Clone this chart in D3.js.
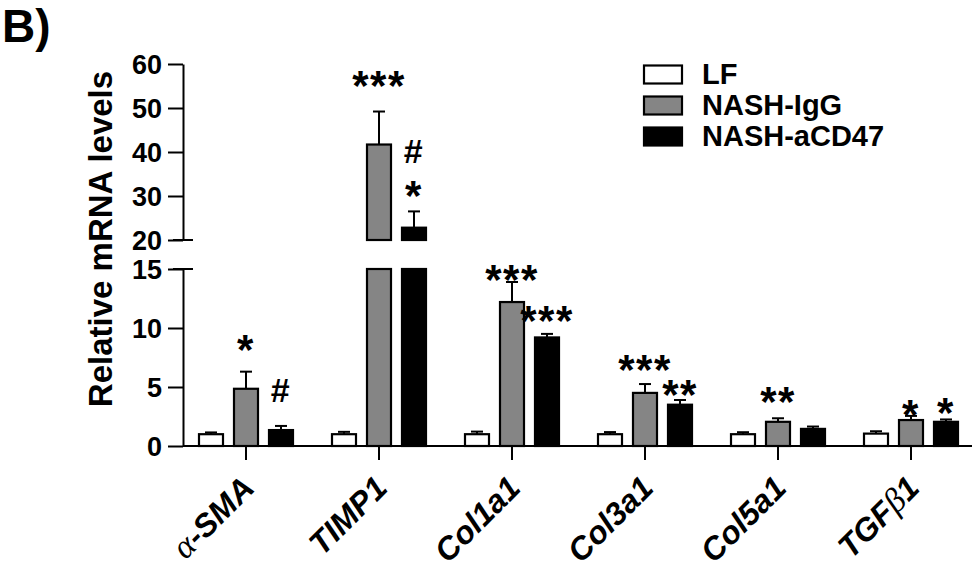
<!DOCTYPE html>
<html>
<head>
<meta charset="utf-8">
<script src="https://cdn.jsdelivr.net/npm/d3@7"></script>
<style>
  html, body { margin: 0; padding: 0; background: #fff; }
  #wrap { position: relative; width: 975px; height: 578px; }
  svg { display: block; font-family: "Liberation Sans", Arial, sans-serif; font-weight: bold; }
</style>
</head>
<body>
<div id="wrap">
<svg id="chart" width="975" height="578"></svg>
</div>
<script>
// genes on the x axis
var genes = ["α-SMA", "TIMP1", "Col1a1", "Col3a1", "Col5a1", "TGFβ1"];
var series = ["LF", "NASH-IgG", "NASH-aCD47"];

// means and SEM
var lfMean   = [1.0, 1.0, 1.0, 1.0, 1.0, 1.05];
var lfErr    = [0.15, 0.2, 0.22, 0.18, 0.17, 0.2];
var iggMean  = [4.85, 41.7, 12.2, 4.5, 2.05, 2.2];
var iggErr   = [1.45, 7.5, 1.7, 0.75, 0.3, 0.35];
var cd47Mean = [1.35, 22.8, 9.2, 3.5, 1.45, 2.05];
var cd47Err  = [0.35, 3.7, 0.3, 0.4, 0.2, 0.2];

// significance marks and the level (axis units) where each one sits
var iggStars    = ["*", "***", "***", "***", "**", "*"];
var iggStarsAt  = [8.5, 55.9, 14.4, 6.8, 4.1, 3.0];
var cd47Stars   = ["", "*", "***", "**", "", "*"];
var cd47StarsAt = [0, 31.0, 10.9, 4.7, 0, 3.15];
var cd47Hash    = ["#", "#", "", "", "", ""];
var cd47HashAt  = [3.7, 37.5, 0, 0, 0, 0];

var lowerTicks = [0, 5, 10, 15];
var upperTicks = [20, 30, 40, 50, 60];

var colors = ["#ffffff", "#858585", "#000000"];

var svg = d3.select("#chart");

// x: one band per gene, one sub band per series
var x = d3.scaleBand().domain(genes).range([179.5, 977.5]).paddingInner(0).paddingOuter(0);
var xs = d3.scaleBand().domain(series).range([-52.5, 52.5]).paddingInner(9 / 35).paddingOuter(9 / 70);

// broken y axis: lower part 0-15, upper part 20-60
var yLow = d3.scaleLinear().domain([0, 15]).range([446, 269]);
var yUp = d3.scaleLinear().domain([20, 60]).range([240, 64]);
function y(v) { return v <= 15 ? yLow(v) : yUp(Math.max(v, 20)); }

// text width measured on a canvas, used to chain the label pieces
var ctx = document.createElement("canvas").getContext("2d");
function textWidth(str, font) {
    ctx.font = font;
    return ctx.measureText(str).width;
}

var rows = genes.map(function(g, i) {
    return {
        gene: g,
        vals: [
            { s: series[0], v: lfMean[i], e: lfErr[i] },
            { s: series[1], v: iggMean[i], e: iggErr[i] },
            { s: series[2], v: cd47Mean[i], e: cd47Err[i] }
        ]
    };
});

var gx = x.bandwidth() / 2;

var groups = svg.selectAll(".gene")
    .data(rows)
    .enter().append("g")
    .attr("class", "gene")
    .attr("transform", function(d) { return "translate(" + (x(d.gene) + gx) + ",0)"; });

var bar = groups.selectAll(".bar")
    .data(function(d) { return d.vals; })
    .enter().append("g")
    .attr("class", "bar");

// error bars (upper half only), drawn first so the bar outline sits on top
bar.append("line")
    .attr("x1", function(d) { return xs(d.s) + xs.bandwidth() / 2; })
    .attr("x2", function(d) { return xs(d.s) + xs.bandwidth() / 2; })
    .attr("y1", function(d) { return y(d.v); })
    .attr("y2", function(d) { return y(d.v + d.e); })
    .attr("stroke", "#000").attr("stroke-width", 2);
bar.append("line")
    .attr("x1", function(d) { return xs(d.s) + xs.bandwidth() / 2 - 6; })
    .attr("x2", function(d) { return xs(d.s) + xs.bandwidth() / 2 + 6; })
    .attr("y1", function(d) { return y(d.v + d.e); })
    .attr("y2", function(d) { return y(d.v + d.e); })
    .attr("stroke", "#000").attr("stroke-width", 2);

// bar bodies, split into two pieces when they cross the break
bar.each(function(d, i) {
    var g = d3.select(this);
    var pieces = d.v > 15
        ? [[yLow(0), yLow(15)], [yUp(20), yUp(d.v)]]
        : [[yLow(0), yLow(d.v)]];
    pieces.forEach(function(p) {
        g.append("rect")
            .attr("x", xs(d.s) + 1)
            .attr("width", xs.bandwidth() - 2)
            .attr("y", p[1])
            .attr("height", p[0] - p[1])
            .attr("fill", colors[i])
            .attr("stroke", "#000")
            .attr("stroke-width", 2.2);
    });
});

// significance marks
function addMarks(labels, levels, s, size, lift) {
    groups.each(function(d, i) {
        if (!labels[i]) return;
        d3.select(this).append("text")
            .attr("x", xs(s) + xs.bandwidth() / 2)
            .attr("y", y(levels[i]) + lift)
            .attr("text-anchor", "middle")
            .attr("font-size", size)
            .attr("letter-spacing", 1.5)
            .text(labels[i]);
    });
}
addMarks(iggStars, iggStarsAt, series[1], 42, 18);
addMarks(cd47Stars, cd47StarsAt, series[2], 42, 18);
addMarks(cd47Hash, cd47HashAt, series[2], 34, 0);

// y axes
var axLow = svg.append("g")
    .attr("transform", "translate(183,0)")
    .call(d3.axisLeft(yLow).tickValues(lowerTicks).tickSize(15).tickSizeOuter(0).tickPadding(6));
var axUp = svg.append("g")
    .attr("transform", "translate(183,0)")
    .call(d3.axisLeft(yUp).tickValues(upperTicks).tickSize(15).tickSizeOuter(0).tickPadding(6));
[axLow, axUp].forEach(function(a) {
    a.selectAll("path, line").attr("stroke", "#000").attr("stroke-width", 2);
    a.selectAll("text").attr("font-size", 27).attr("font-family", "Liberation Sans, Arial, sans-serif")
        .attr("font-weight", "bold").attr("fill", "#000").attr("dy", "0.36em");
});
// break marks at 15 and 20
[yLow(15), yUp(20)].forEach(function(yy) {
    svg.append("line")
        .attr("x1", 173).attr("x2", 193)
        .attr("y1", yy).attr("y2", yy)
        .attr("stroke", "#000").attr("stroke-width", 2);
});

// x axis
var axX = svg.append("g")
    .attr("transform", "translate(0," + yLow(0) + ")")
    .call(d3.axisBottom(x).tickSize(14).tickSizeOuter(0).tickFormat(""));
axX.select(".domain").remove();
axX.selectAll("line").attr("stroke", "#000").attr("stroke-width", 2);
svg.append("line")
    .attr("x1", 183).attr("x2", 972)
    .attr("y1", yLow(0)).attr("y2", yLow(0))
    .attr("stroke", "#000").attr("stroke-width", 2);

// rotated gene labels: one plain text per piece, chained backwards from the end
// of the label along the 45 degree line (greek letters in a serif face)
var c45 = Math.SQRT1_2;
genes.forEach(function(g) {
    var ax = x(g) + gx + 10, ay = yLow(0) + 44;
    var parts = g.split(/([αβ])/).filter(function(p) { return p; }).reverse();
    var offset = 0;
    parts.forEach(function(part) {
        var greek = part === "α" || part === "β";
        var size = greek ? 34 : 32;
        var family = greek ? "'Liberation Serif', 'Times New Roman', serif" : "'Liberation Sans', Arial, sans-serif";
        var weight = greek ? "normal" : "bold";
        var t = svg.append("text")
            .attr("text-anchor", "end")
            .attr("font-size", size)
            .attr("font-style", "italic")
            .attr("transform", "translate(" + (ax - offset * c45) + "," + (ay + offset * c45) + ") rotate(-45)")
            .text(part);
        if (greek) t.attr("font-family", family).attr("font-weight", weight);
        offset += textWidth(part, "italic " + weight + " " + size + "px " + family);
    });
});

// y title
svg.append("text")
    .attr("transform", "translate(112,239) rotate(-90)")
    .attr("text-anchor", "middle")
    .attr("font-size", 33)
    .text("Relative mRNA levels");

// panel letter
svg.append("text")
    .attr("x", 2).attr("y", 42)
    .attr("font-size", 46)
    .text("B)");

// legend
var legend = svg.selectAll(".legend")
    .data(series)
    .enter().append("g")
    .attr("class", "legend")
    .attr("transform", function(d, i) { return "translate(643," + (84 + i * 31) + ")"; });
legend.append("rect")
    .attr("x", 1).attr("y", -18.5)
    .attr("width", 38).attr("height", 18)
    .attr("fill", function(d, i) { return colors[i]; })
    .attr("stroke", "#000").attr("stroke-width", 2.2);
legend.append("text")
    .attr("x", 59).attr("y", 0)
    .attr("font-size", 29)
    .text(function(d) { return d; });
</script>
</body>
</html>
